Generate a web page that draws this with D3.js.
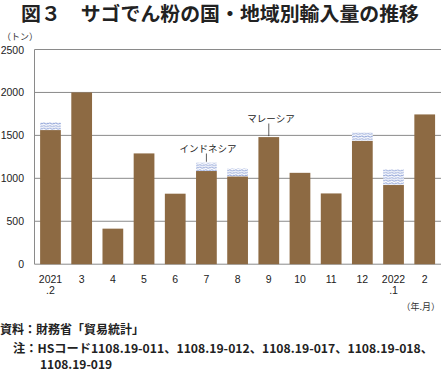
<!DOCTYPE html>
<html>
<head>
<meta charset="utf-8">
<script src="https://cdn.jsdelivr.net/npm/d3@7"></script>
<style>
    body { margin: 0; background: #fff; }
    svg { display: block; font-family: "Noto Sans CJK JP", "Noto Sans", sans-serif; }
</style>
</head>
<body>
<div id="chart-container"></div>
<script>
// months (two line labels), Malaysia and Indonesia imports (tons)
const months = ["2021\n.2", "3", "4", "5", "6", "7", "8", "9", "10", "11", "12", "2022\n.1", "2"];
const malaysia = [1562, 2000, 414, 1290, 821, 1085, 1023, 1480, 1064, 824, 1437, 922, 1744];
const indonesia = [92, 0, 0, 0, 0, 96, 93, 0, 0, 0, 97, 182, 0];
const yTicks = [0, 500, 1000, 1500, 2000, 2500];

const W = 441;
const H = 373;
let margin = { top: 49.5, left: 34.5, right: 0, bottom: 109 };
const BROWN = "#8d6a43";

let svg = d3.select("#chart-container")
    .append("svg")
    .attr("width", W)
    .attr("height", H);

// wavy hatch for Indonesia
const defs = svg.append("defs");
const pat = defs.append("pattern")
    .attr("id", "wave")
    .attr("patternUnits", "userSpaceOnUse")
    .attr("width", 6)
    .attr("height", 2.6);
pat.append("rect").attr("width", 6).attr("height", 2.6).attr("fill", "#fff");
pat.append("path")
    .attr("d", "M0,1.8 Q1.5,0 3,1.3 T6,0.8")
    .attr("fill", "none")
    .attr("stroke", "#97a9da")
    .attr("stroke-width", 0.9);

let xScale = d3.scaleBand()
    .domain(months)
    .range([margin.left, 440.7])
    .paddingInner(0.335)
    .paddingOuter(0.18);

let yScale = d3.scaleLinear()
    .domain([0, 2500])
    .range([264.2, margin.top]);

// title
svg.append("text")
    .attr("x", 21)
    .attr("y", 21)
    .attr("font-size", 19.5)
    .attr("font-weight", "bold")
    .attr("fill", "#222")
    .attr("textLength", 398)
    .attr("lengthAdjust", "spacingAndGlyphs")
    .text("図３　サゴでん粉の国・地域別輸入量の推移");

// unit
svg.append("text")
    .attr("x", 2)
    .attr("y", 40)
    .attr("font-size", 9)
    .attr("fill", "#333")
    .text("（トン）");

// grid lines
svg.append("g")
    .selectAll("line")
    .data(yTicks)
    .enter()
    .append("line")
    .attr("x1", margin.left)
    .attr("x2", W)
    .attr("y1", d => yScale(d))
    .attr("y2", d => yScale(d))
    .attr("stroke", "#8a8a8a")
    .attr("stroke-width", 1);

// y axis line
svg.append("line")
    .attr("x1", margin.left)
    .attr("x2", margin.left)
    .attr("y1", yScale(2500))
    .attr("y2", yScale(0))
    .attr("stroke", "#8a8a8a");

// y tick labels
svg.append("g")
    .selectAll("text")
    .data(yTicks)
    .enter()
    .append("text")
    .attr("x", 24)
    .attr("y", d => yScale(d) + 4)
    .attr("text-anchor", "end")
    .attr("font-size", 10.5)
    .attr("font-family", "'Liberation Sans', sans-serif")
    .attr("fill", "#222")
    .text(d => d);

// bars
svg.append("g")
    .selectAll("rect")
    .data(months)
    .enter()
    .append("rect")
    .attr("x", d => xScale(d))
    .attr("width", xScale.bandwidth())
    .attr("y", (d, i) => yScale(malaysia[i]))
    .attr("height", (d, i) => yScale(0) - yScale(malaysia[i]))
    .attr("fill", BROWN);

svg.append("g")
    .selectAll("rect")
    .data(months.filter((d, i) => indonesia[i] > 0))
    .enter()
    .append("rect")
    .attr("x", d => xScale(d))
    .attr("width", xScale.bandwidth())
    .attr("y", d => {
        const i = months.indexOf(d);
        return yScale(malaysia[i] + indonesia[i]);
    })
    .attr("height", d => {
        const i = months.indexOf(d);
        return yScale(malaysia[i]) - yScale(malaysia[i] + indonesia[i]);
    })
    .attr("fill", "url(#wave)");

// x labels
const xl = svg.append("g")
    .selectAll("text")
    .data(months)
    .enter()
    .append("text")
    .attr("x", d => xScale(d) + xScale.bandwidth() / 2)
    .attr("y", 283)
    .attr("text-anchor", "middle")
    .attr("font-size", 10.5)
    .attr("font-family", "'Liberation Sans', sans-serif")
    .attr("fill", "#222");
xl.selectAll("tspan")
    .data(d => d.split("\n"))
    .enter()
    .append("tspan")
    .attr("x", function() { return d3.select(this.parentNode).attr("x"); })
    .attr("dy", (d, i) => i === 0 ? 0 : 11)
    .text(d => d);

svg.append("text")
    .attr("x", 440)
    .attr("y", 310)
    .attr("text-anchor", "end")
    .attr("font-size", 9)
    .attr("fill", "#333")
    .text("（年.月）");

// series annotations
function annotate(idx, total, label, ly, lx) {
    const cx = xScale(months[idx]) + xScale.bandwidth() / 2;
    svg.append("line")
        .attr("x1", cx)
        .attr("x2", cx)
        .attr("y1", ly + 2)
        .attr("y2", yScale(total) - 1)
        .attr("stroke", "#333")
        .attr("stroke-width", 0.8);
    svg.append("text")
        .attr("x", lx)
        .attr("y", ly)
        .attr("text-anchor", "middle")
        .attr("font-size", 9.5)
        .attr("fill", "#222")
        .text(label);
}
annotate(5, malaysia[5] + indonesia[5], "インドネシア", 151.5, 208);
annotate(7, malaysia[7], "マレーシア", 121.5, 271);

// footer
svg.append("text")
    .attr("x", 0)
    .attr("y", 334)
    .attr("font-size", 12)
    .attr("font-weight", "bold")
    .attr("fill", "#222")
    .text("資料：財務省「貿易統計」");

svg.append("text")
    .attr("x", 13)
    .attr("y", 353)
    .attr("font-size", 12)
    .attr("font-weight", "bold")
    .attr("fill", "#222")
    .attr("textLength", 420)
    .attr("lengthAdjust", "spacingAndGlyphs")
    .text("注：HSコード1108.19-011、1108.19-012、1108.19-017、1108.19-018、");

svg.append("text")
    .attr("x", 40)
    .attr("y", 369)
    .attr("font-size", 12)
    .attr("font-weight", "bold")
    .attr("fill", "#222")
    .text("1108.19-019");
</script>
</body>
</html>
